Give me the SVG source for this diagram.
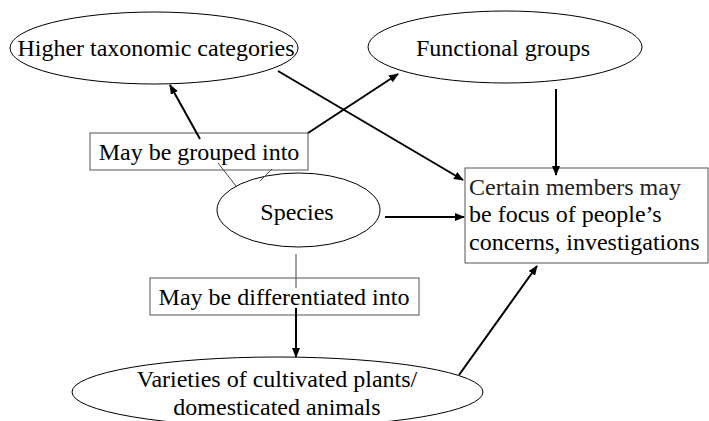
<svg xmlns="http://www.w3.org/2000/svg" width="709" height="421" viewBox="0 0 709 421">
<style>
.n{fill:#fff;stroke:#000;stroke-width:1}
.b{fill:#fff;stroke:#555;stroke-width:1}
.a{stroke:#000;stroke-width:2;fill:none;marker-end:url(#ah)}
.t{stroke:#444;stroke-width:1;fill:none}
</style>
<defs>
<marker id="ah" markerUnits="userSpaceOnUse" markerWidth="10" markerHeight="8" refX="9" refY="4" orient="auto">
<path d="M0,0 L10,4 L0,8 Z" fill="#000"/>
</marker>
</defs>
<g font-family="Liberation Serif, Times New Roman, serif" font-size="24" fill="#000">
<g id="higher"><ellipse class="n" cx="154" cy="48" rx="144" ry="36"/><text x="156" y="56" text-anchor="middle">Higher taxonomic categories</text></g>
<g id="functional"><ellipse class="n" cx="505" cy="47" rx="137" ry="36"/><text x="503" y="56" text-anchor="middle">Functional groups</text></g>
<g id="species"><ellipse class="n" cx="298.5" cy="210" rx="81.5" ry="37"/><text x="297" y="220" text-anchor="middle">Species</text></g>
<g id="certain"><rect class="b" x="465" y="168" width="243" height="95"/><text x="469" y="195" fill="#222">Certain members may</text><text x="469" y="222">be focus of people’s</text><text x="469" y="250">concerns, investigations</text></g>
<g id="varieties"><ellipse class="n" cx="277.5" cy="392" rx="205.5" ry="35"/><text x="277" y="387" text-anchor="middle">Varieties of cultivated plants/</text><text x="277" y="415" text-anchor="middle">domesticated animals</text></g>
<g id="grouped"><rect class="b" x="90" y="133" width="218" height="37"/><text x="199" y="160" text-anchor="middle">May be grouped into</text></g>
<g id="differentiated"><rect class="b" x="150" y="278" width="269" height="37"/><text x="284" y="305" text-anchor="middle">May be differentiated into</text></g>
</g>
<g id="connectors">
<line class="t" x1="218" y1="163" x2="236" y2="186"/>
<line class="t" x1="272" y1="169" x2="260" y2="181"/>
<line class="t" x1="296" y1="254" x2="296" y2="288"/>
<line class="a" x1="200" y1="139" x2="170" y2="85"/>
<line class="a" x1="308" y1="133" x2="398" y2="74"/>
<line class="a" x1="278" y1="71" x2="463" y2="180"/>
<line class="a" x1="556" y1="89" x2="556" y2="175"/>
<line class="a" x1="385" y1="217" x2="464" y2="217"/>
<line class="a" x1="296" y1="308" x2="296" y2="357"/>
<line class="a" x1="459" y1="375" x2="537" y2="266"/>
</g>
</svg>
